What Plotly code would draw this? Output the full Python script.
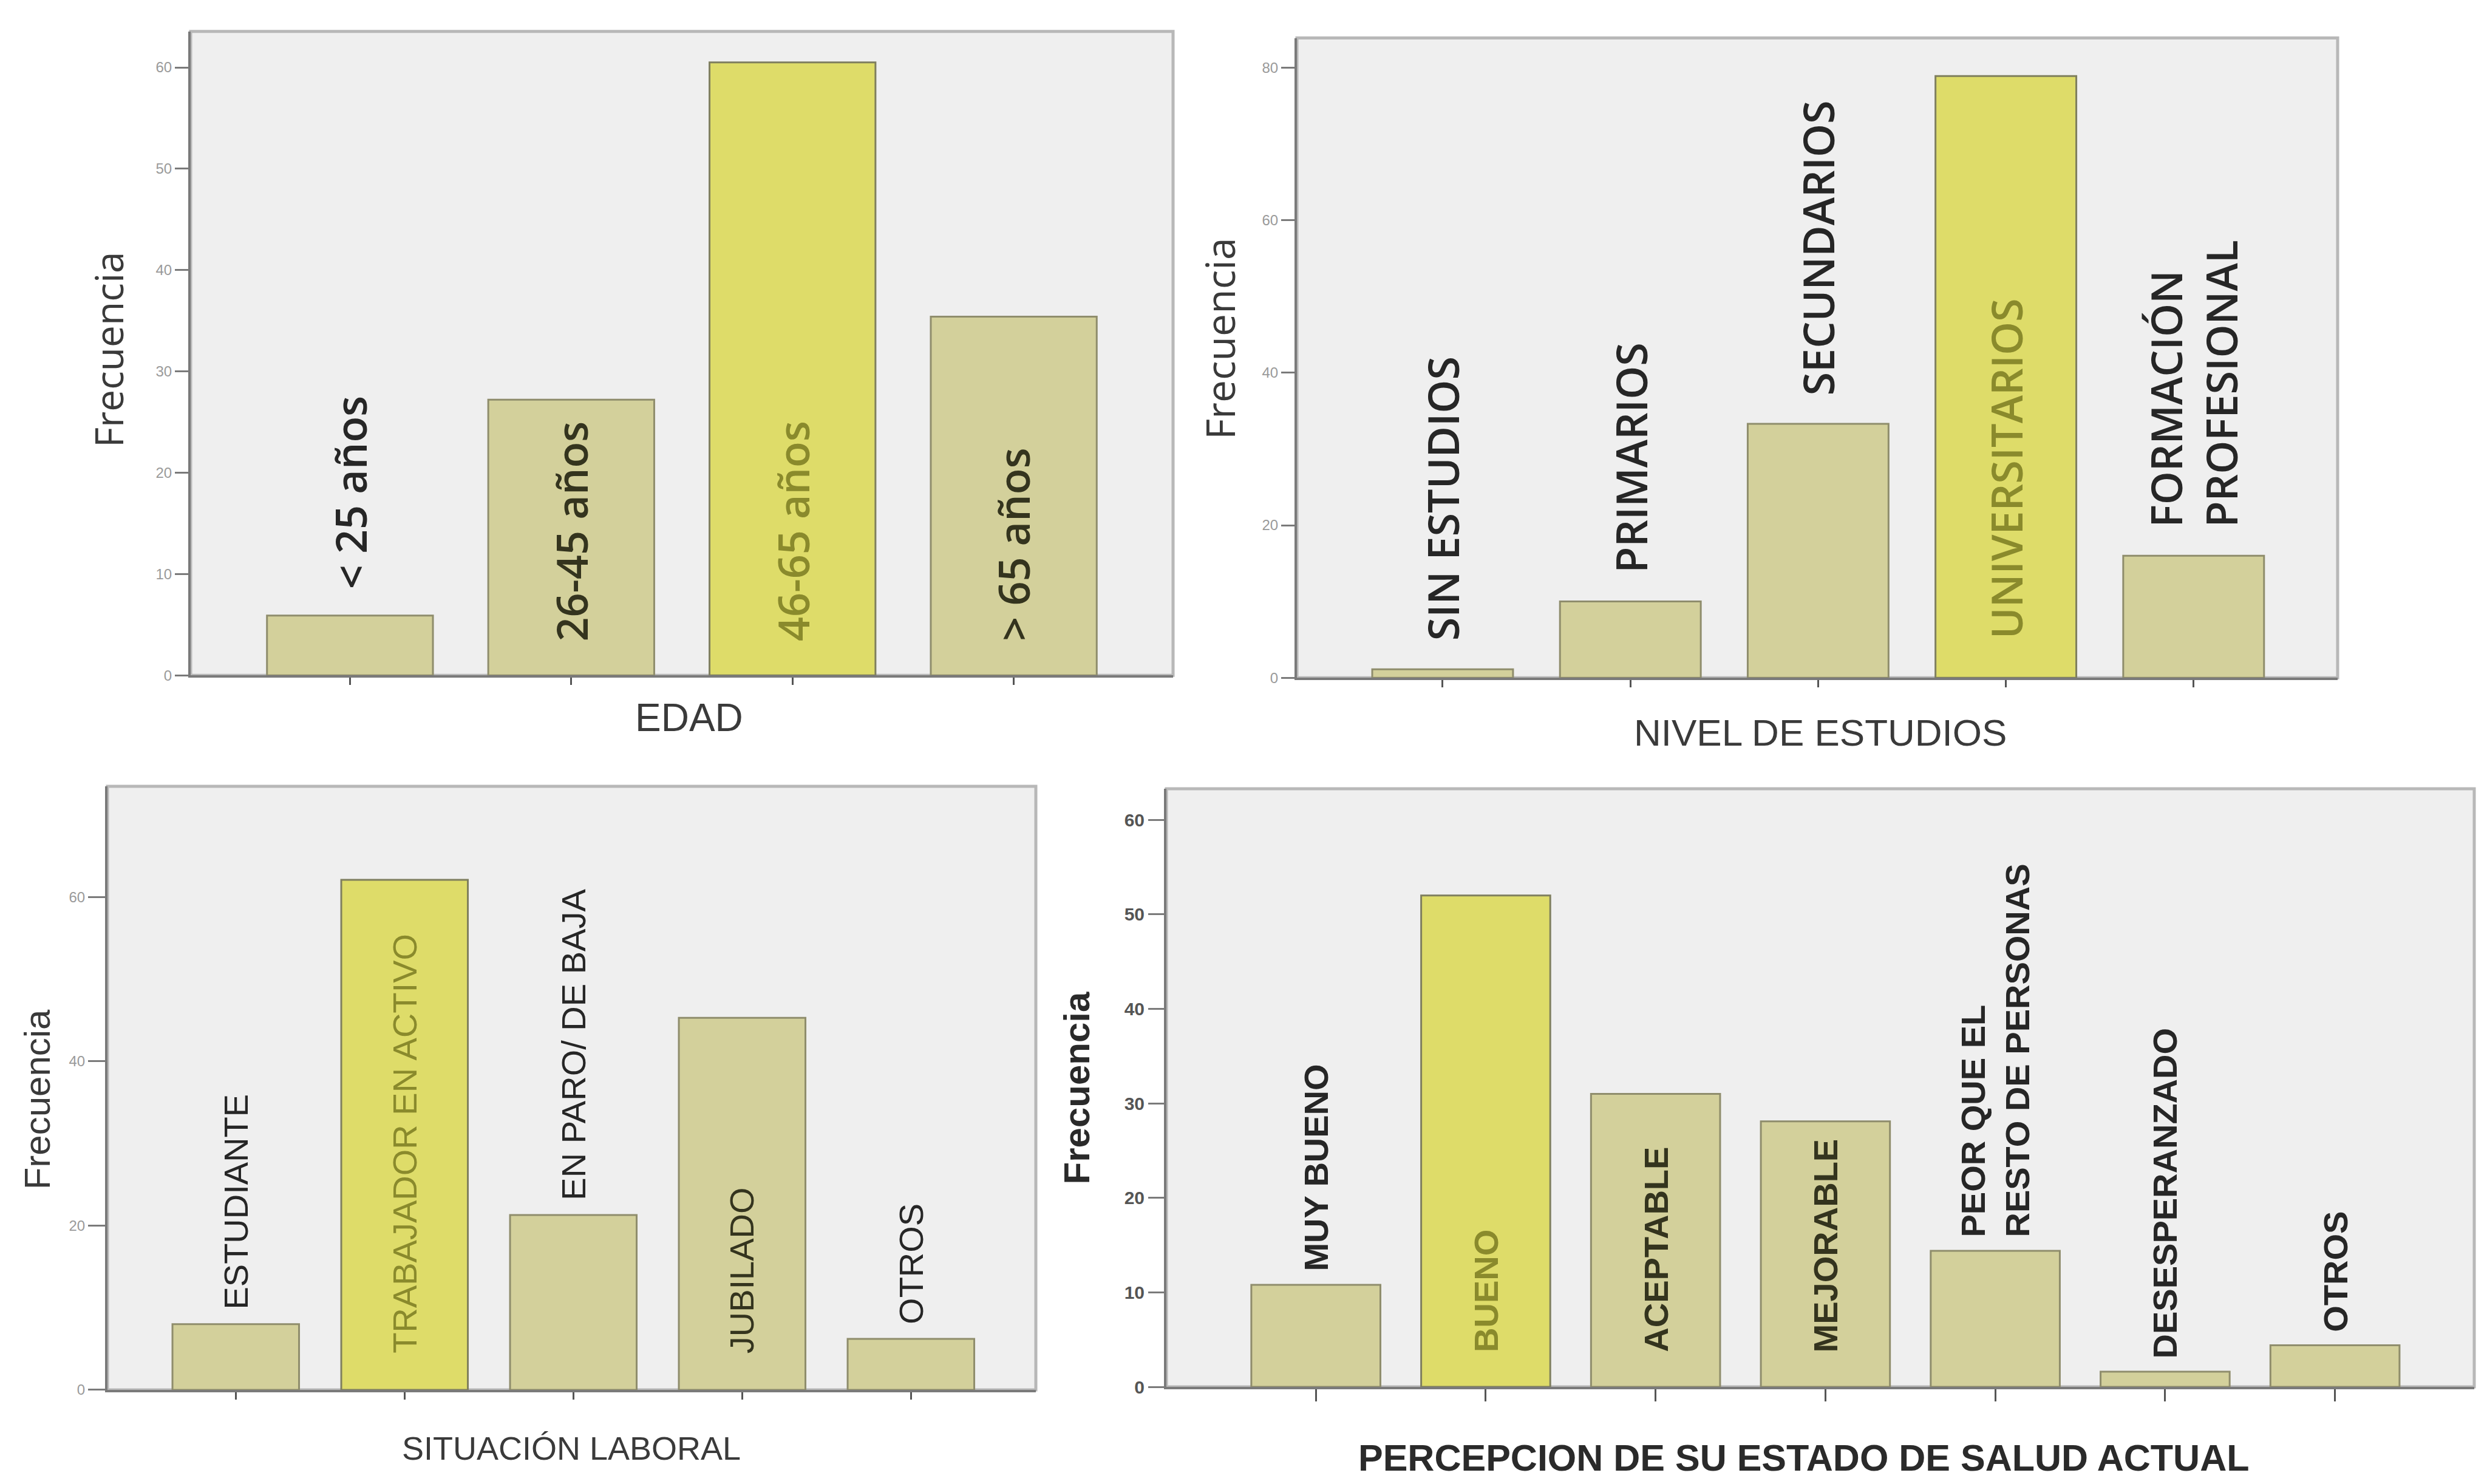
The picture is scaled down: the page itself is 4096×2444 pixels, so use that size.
import plotly.graph_objects as go

W, H = 4096, 2444

# ---------------- data ----------------
edad_cats = ["< 25 años", "26-45 años", "46-65 años", "> 65 años"]
edad_vals = [5.9, 27.2, 60.5, 35.4]
edad_ticks = [0, 10, 20, 30, 40, 50, 60]

estudios_cats = ["SIN ESTUDIOS", "PRIMARIOS", "SECUNDARIOS", "UNIVERSITARIOS",
                 "FORMACIÓN<br>PROFESIONAL"]
estudios_vals = [1.1, 10.0, 33.3, 78.9, 16.0]
estudios_ticks = [0, 20, 40, 60, 80]

laboral_cats = ["ESTUDIANTE", "TRABAJADOR EN ACTIVO", "EN PARO/ DE BAJA", "JUBILADO", "OTROS"]
laboral_vals = [8.0, 62.1, 21.3, 45.3, 6.2]
laboral_ticks = [0, 20, 40, 60]

salud_cats = ["MUY BUENO", "BUENO", "ACEPTABLE", "MEJORABLE",
              "PEOR QUE EL<br>RESTO DE PERSONAS", "DESESPERANZADO", "OTROS"]
salud_vals = [10.8, 52.0, 31.0, 28.1, 14.4, 1.6, 4.4]
salud_ticks = [0, 10, 20, 30, 40, 50, 60]

titles = ["EDAD", "NIVEL DE ESTUDIOS", "SITUACIÓN LABORAL",
          "PERCEPCION DE SU ESTADO DE SALUD ACTUAL"]
ytitle = "Frecuencia"

# ---------------- styles ----------------
TAN = "#D3D09B"
TAN_LINE = "#8f8d6c"
HL = "#DEDC69"
HL_LINE = "#7f7f5e"
LIB = "Liberation Sans"

panels = [
    dict(cats=edad_cats, vals=edad_vals, ticks=edad_ticks,
         inside=[False, True, True, True],
         px=(314, 1932), py=(52, 1120), yr=63.56, xr=(-0.72, 3.72), bw=0.75,
         lab_font=dict(family="Open Sans", size=70, weight=600), pads=(42, 54),
         tickfont=dict(family=LIB, size=24, color="#9a9a9a"), ticklen=22, xticklen=12,
         title=titles[0], title_xy=(1135, 1190), title_font=dict(family=LIB, size=64, color="#3a3a3a"),
         ytitle_xy=(179, 580), ytitle_font=dict(family="Open Sans", size=64, color="#3a3a3a")),
    dict(cats=estudios_cats, vals=estudios_vals, ticks=estudios_ticks,
         inside=[False, False, False, True, False],
         px=(2136, 3850), py=(63, 1124), yr=83.9, xr=(-0.776, 4.767), bw=0.75,
         lab_font=dict(family="Open Sans", size=70, weight=600), pads=(45, 62),
         tickfont=dict(family=LIB, size=24, color="#9a9a9a"), ticklen=22, xticklen=12,
         title=titles[1], title_xy=(2998, 1215), title_font=dict(family=LIB, size=62, color="#3a3a3a"),
         ytitle_xy=(2008, 562), ytitle_font=dict(family="Open Sans", size=66, color="#3a3a3a")),
    dict(cats=laboral_cats, vals=laboral_vals, ticks=laboral_ticks,
         inside=[False, True, False, True, False],
         px=(177, 1706), py=(1304, 2305), yr=73.5, xr=(-0.76, 4.74), bw=0.75,
         lab_font=dict(family=LIB, size=56), pads=(22, 58),
         tickfont=dict(family=LIB, size=24, color="#9a9a9a"), ticklen=28, xticklen=12,
         title=titles[2], title_xy=(941, 2402), title_font=dict(family=LIB, size=54, color="#3a3a3a"),
         ytitle_xy=(61, 1824), ytitle_font=dict(family=LIB, size=60, color="#3a3a3a")),
    dict(cats=salud_cats, vals=salud_vals, ticks=salud_ticks,
         inside=[False, True, True, True, False, False, False],
         px=(1921, 4075), py=(1308, 2300), yr=63.3, xr=(-0.88, 6.82), bw=0.76,
         lab_font=dict(family=LIB, size=56, weight="bold"), pads=(20, 55),
         tickfont=dict(family=LIB, size=30, color="#555555", weight="bold"), ticklen=26, xticklen=20,
         title=titles[3], title_xy=(2971, 2418),
         title_font=dict(family=LIB, size=61, color="#2a2a2a", weight="bold"),
         ytitle_xy=(1773, 1805), ytitle_font=dict(family=LIB, size=60, color="#2a2a2a", weight="bold")),
]

fig = go.Figure()
annotations = []
shapes = []
layout = dict(
    width=W, height=H, margin=dict(l=0, r=0, t=0, b=0),
    paper_bgcolor="white", plot_bgcolor="#efefef", showlegend=False,
)

for i, p in enumerate(panels, start=1):
    sfx = "" if i == 1 else str(i)
    xa, ya = "x" + sfx, "y" + sfx
    vals = p["vals"]
    top = max(vals)
    hl = [v == top for v in vals]
    fig.add_trace(go.Bar(
        x=p["cats"], y=vals, xaxis=xa, yaxis=ya, width=p["bw"],
        marker=dict(color=[HL if h else TAN for h in hl],
                    line=dict(color=[HL_LINE if h else TAN_LINE for h in hl], width=3)),
        hoverinfo="skip",
    ))
    layout["xaxis" + sfx] = dict(
        domain=[p["px"][0] / W, p["px"][1] / W], anchor=ya,
        type="category", range=list(p["xr"]), showticklabels=False,
        ticks="outside", ticklen=p["xticklen"], tickwidth=3, tickcolor="#555555",
        showline=True, linecolor="#7a7a7a", linewidth=4, showgrid=False, zeroline=False,
        fixedrange=True,
    )
    layout["yaxis" + sfx] = dict(
        domain=[1 - p["py"][1] / H, 1 - p["py"][0] / H], anchor=xa,
        range=[0, p["yr"]], tickvals=p["ticks"], tickfont=p["tickfont"],
        ticks="outside", ticklen=p["ticklen"], tickwidth=3, tickcolor="#7a7a7a",
        showline=True, linecolor="#7a7a7a", linewidth=4, showgrid=False, zeroline=False,
        fixedrange=True,
    )
    shapes.append(dict(type="rect", xref=xa + " domain", yref=ya + " domain",
                       x0=0, x1=1, y0=0, y1=1, layer="below",
                       line=dict(color="#b8b8b8", width=5)))
    pad_out, pad_in = p["pads"]
    for c, v, h, ins in zip(p["cats"], vals, hl, p["inside"]):
        if ins:
            col = "#8a8a2c" if h else "#34341e"
        else:
            col = "#262626"
        f = dict(p["lab_font"])
        f["color"] = col
        annotations.append(dict(
            x=c, y=0 if ins else v, xref=xa, yref=ya, text=c, textangle=-90,
            showarrow=False, xanchor="center", yanchor="bottom",
            yshift=pad_in if ins else pad_out, align="left", font=f,
        ))
    tx, ty = p["title_xy"]
    annotations.append(dict(x=tx / W, y=1 - ty / H, xref="paper", yref="paper",
                            text=p["title"], showarrow=False, xanchor="center",
                            yanchor="middle", font=p["title_font"]))
    yx, yy = p["ytitle_xy"]
    annotations.append(dict(x=yx / W, y=1 - yy / H, xref="paper", yref="paper",
                            text=ytitle, textangle=-90, showarrow=False,
                            xanchor="center", yanchor="middle", font=p["ytitle_font"]))

layout["annotations"] = annotations
layout["shapes"] = shapes
fig.update_layout(**layout)
fig.write_html("out.html")
